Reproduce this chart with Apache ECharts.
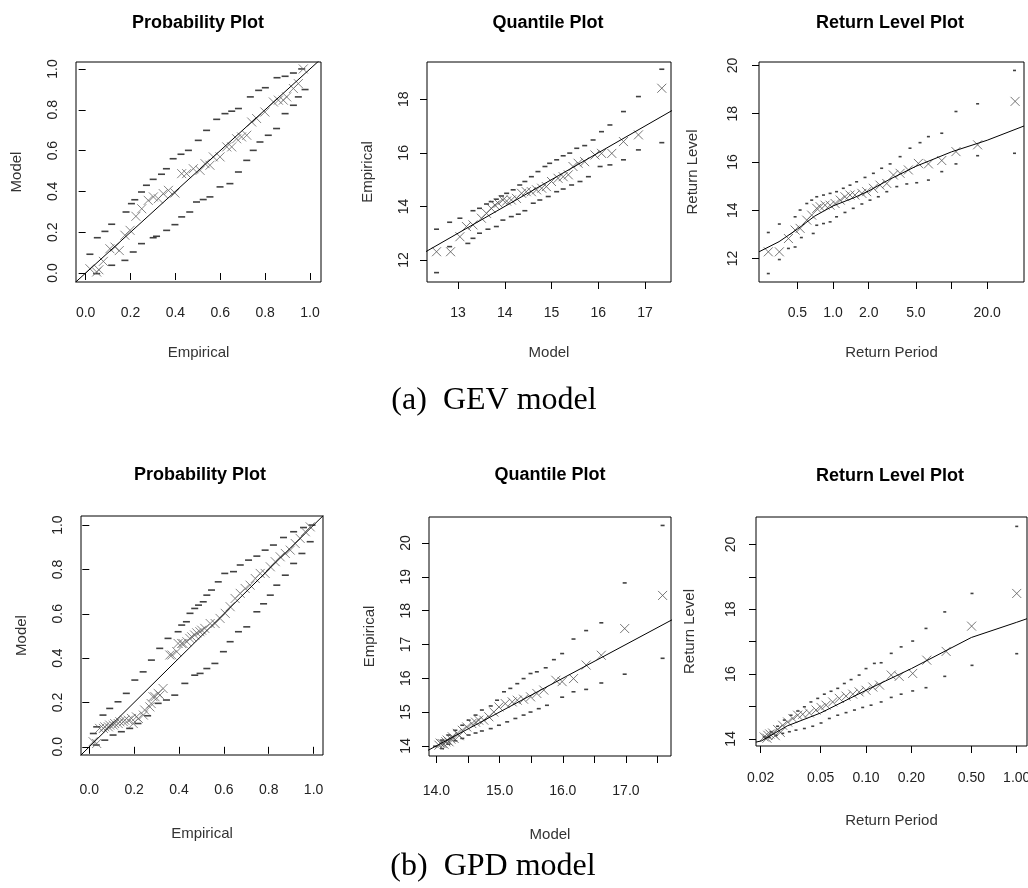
<!DOCTYPE html>
<html>
<head>
<meta charset="utf-8">
<title>GEV / GPD diagnostic plots</title>
<script src="https://cdn.jsdelivr.net/npm/echarts@6/dist/echarts.min.js"></script>
<style>
  html, body { margin: 0; padding: 0; background: #fff; }
  #main { width: 1028px; height: 888px; }
</style>
</head>
<body>
<div id="main"></div>
<script>
// ---- (a) GEV model ----
// probability plot: [empirical, model]
var gevProbPts = [[0.019,0.021],[0.049,0.005],[0.059,0.016],[0.079,0.057],[0.108,0.119],[0.131,0.127],[0.150,0.110],[0.175,0.185],[0.198,0.209],[0.224,0.278],[0.250,0.315],[0.279,0.356],[0.302,0.373],[0.324,0.364],[0.346,0.389],[0.369,0.405],[0.398,0.392],[0.428,0.487],[0.450,0.487],[0.480,0.511],[0.510,0.503],[0.532,0.536],[0.554,0.528],[0.569,0.569],[0.599,0.569],[0.629,0.618],[0.651,0.618],[0.673,0.658],[0.695,0.667],[0.718,0.675],[0.740,0.740],[0.762,0.757],[0.799,0.789],[0.837,0.838],[0.859,0.847],[0.881,0.847],[0.896,0.863],[0.926,0.904],[0.948,0.928],[0.970,1.0]];
var gevProbUpper = [[0.019,0.092],[0.052,0.173],[0.086,0.204],[0.116,0.239],[0.180,0.299],[0.204,0.340],[0.219,0.359],[0.249,0.397],[0.271,0.430],[0.301,0.459],[0.338,0.484],[0.360,0.511],[0.390,0.560],[0.425,0.582],[0.458,0.601],[0.502,0.650],[0.539,0.699],[0.584,0.753],[0.621,0.781],[0.651,0.793],[0.681,0.806],[0.734,0.863],[0.771,0.895],[0.801,0.908],[0.853,0.957],[0.889,0.964],[0.926,0.980],[0.963,1.0]];
var gevProbLower = [[0.049,-0.003],[0.116,0.038],[0.175,0.062],[0.212,0.103],[0.249,0.144],[0.301,0.173],[0.316,0.180],[0.361,0.209],[0.398,0.237],[0.428,0.275],[0.464,0.299],[0.494,0.348],[0.524,0.360],[0.554,0.373],[0.599,0.422],[0.643,0.438],[0.681,0.495],[0.718,0.552],[0.747,0.601],[0.777,0.642],[0.814,0.675],[0.851,0.708],[0.889,0.781],[0.926,0.822],[0.948,0.863],[0.978,0.899]];
var probDiag = [[-0.1,-0.1],[1.1,1.1]];

// quantile plot: [model, empirical]
var gevQuantPts = [[12.54,12.31],[12.84,12.31],[13.04,12.87],[13.18,13.25],[13.32,13.31],[13.50,13.56],[13.61,13.74],[13.71,13.93],[13.79,14.05],[13.86,14.12],[13.96,14.24],[14.04,14.20],[14.14,14.24],[14.25,14.30],[14.36,14.49],[14.46,14.55],[14.57,14.55],[14.68,14.62],[14.79,14.68],[14.89,14.74],[15.00,14.93],[15.14,15.05],[15.25,15.11],[15.36,15.18],[15.46,15.49],[15.57,15.61],[15.71,15.67],[15.93,15.92],[16.07,15.98],[16.29,15.98],[16.54,16.42],[16.86,16.67],[17.36,18.41]];
var gevQuantUpper = [[12.54,13.15],[12.82,13.41],[13.04,13.56],[13.32,13.84],[13.46,13.93],[13.61,14.09],[13.71,14.18],[13.82,14.27],[13.93,14.39],[14.04,14.49],[14.18,14.62],[14.32,14.80],[14.43,14.93],[14.57,15.11],[14.71,15.30],[14.86,15.49],[14.96,15.61],[15.11,15.74],[15.25,15.89],[15.39,15.99],[15.54,16.17],[15.71,16.27],[15.89,16.48],[16.07,16.79],[16.25,17.04],[16.54,17.54],[16.86,18.10],[17.36,19.12]];
var gevQuantLower = [[12.54,11.53],[12.82,12.50],[13.21,12.62],[13.32,12.81],[13.46,13.00],[13.64,13.15],[13.82,13.25],[13.96,13.49],[14.14,13.62],[14.29,13.71],[14.43,13.84],[14.61,14.12],[14.75,14.24],[14.93,14.37],[15.11,14.55],[15.25,14.65],[15.43,14.80],[15.61,14.93],[15.79,15.11],[16.04,15.49],[16.25,15.55],[16.54,15.74],[16.86,16.11],[17.36,16.38]];
var gevQuantDiag = [[11,11],[20,20]];

// return level plot: [return period, return level]
var gevRetCurve = [[0.237,12.28],[0.35,12.70],[0.5,13.22],[0.7,13.76],[1.0,14.18],[1.5,14.52],[2.0,14.80],[3.0,15.28],[5.0,15.82],[10,16.42],[20,16.90],[40.9,17.49]];
var gevRetPts = [[0.284,12.28],[0.352,12.28],[0.42,12.83],[0.478,13.18],[0.527,13.25],[0.600,13.59],[0.66,13.80],[0.728,14.08],[0.777,14.15],[0.856,14.21],[0.944,14.21],[1.04,14.28],[1.15,14.42],[1.26,14.56],[1.39,14.63],[1.53,14.63],[1.75,14.70],[1.92,14.77],[2.19,14.91],[2.49,15.04],[2.84,15.11],[3.23,15.46],[3.68,15.53],[4.32,15.67],[5.25,15.94],[6.38,15.92],[8.27,16.06],[10.9,16.43],[16.6,16.71],[34.4,18.51]];
var gevRetUpper = [[0.284,13.08],[0.352,13.43],[0.478,13.73],[0.527,14.01],[0.60,14.28],[0.66,14.42],[0.728,14.56],[0.83,14.63],[0.944,14.70],[1.07,14.77],[1.22,14.91],[1.39,15.04],[1.58,15.18],[1.86,15.36],[2.19,15.53],[2.57,15.74],[3.03,15.92],[3.68,16.22],[4.46,16.57],[5.42,16.80],[6.38,17.05],[8.27,17.19],[10.9,18.09],[16.6,18.41],[34.0,19.79]];
var gevRetLower = [[0.284,11.38],[0.352,11.96],[0.42,12.42],[0.478,12.48],[0.54,12.87],[0.68,13.04],[0.728,13.38],[0.83,13.45],[0.944,13.52],[1.07,13.73],[1.26,13.91],[1.48,14.08],[1.75,14.26],[2.05,14.42],[2.41,14.56],[2.84,14.77],[3.45,14.98],[4.19,15.09],[5.08,15.14],[6.38,15.25],[8.27,15.60],[10.9,15.92],[16.6,16.26],[34.0,16.36]];

// ---- (b) GPD model ----
var gpdProbPts = [[0.017,0.023],[0.033,0.015],[0.046,0.083],[0.063,0.083],[0.069,0.090],[0.085,0.090],[0.091,0.098],[0.107,0.098],[0.113,0.105],[0.129,0.105],[0.136,0.113],[0.152,0.113],[0.158,0.120],[0.174,0.120],[0.188,0.128],[0.196,0.105],[0.210,0.135],[0.219,0.128],[0.241,0.143],[0.247,0.166],[0.270,0.180],[0.276,0.195],[0.284,0.226],[0.293,0.226],[0.307,0.241],[0.315,0.233],[0.329,0.263],[0.359,0.414],[0.368,0.414],[0.390,0.429],[0.396,0.466],[0.412,0.466],[0.418,0.466],[0.435,0.474],[0.448,0.489],[0.457,0.496],[0.470,0.504],[0.479,0.514],[0.493,0.519],[0.501,0.526],[0.515,0.534],[0.539,0.556],[0.561,0.556],[0.583,0.579],[0.606,0.602],[0.628,0.632],[0.650,0.669],[0.673,0.692],[0.695,0.714],[0.717,0.729],[0.740,0.759],[0.762,0.782],[0.784,0.782],[0.807,0.812],[0.829,0.835],[0.851,0.857],[0.874,0.872],[0.896,0.887],[0.918,0.917],[0.940,0.940],[0.963,0.970],[0.985,0.992]];
var gpdProbUpper = [[0.018,0.060],[0.033,0.090],[0.061,0.143],[0.091,0.173],[0.128,0.203],[0.165,0.241],[0.203,0.301],[0.240,0.338],[0.277,0.391],[0.314,0.444],[0.351,0.489],[0.396,0.519],[0.412,0.549],[0.433,0.564],[0.449,0.602],[0.470,0.624],[0.487,0.639],[0.508,0.654],[0.524,0.684],[0.545,0.707],[0.575,0.744],[0.604,0.782],[0.643,0.790],[0.673,0.820],[0.710,0.842],[0.747,0.860],[0.784,0.887],[0.821,0.910],[0.866,0.944],[0.911,0.970],[0.955,0.989],[0.993,1.0]];
var gpdProbLower = [[0.031,0.008],[0.069,0.030],[0.106,0.053],[0.143,0.068],[0.180,0.083],[0.217,0.105],[0.260,0.140],[0.307,0.196],[0.344,0.211],[0.381,0.233],[0.426,0.286],[0.470,0.323],[0.494,0.331],[0.524,0.353],[0.560,0.376],[0.598,0.429],[0.628,0.474],[0.665,0.519],[0.702,0.541],[0.747,0.609],[0.777,0.645],[0.807,0.684],[0.836,0.729],[0.874,0.774],[0.911,0.827],[0.948,0.872],[0.985,0.925]];

var gpdQuantPts = [[14.04,14.02],[14.06,14.08],[14.09,14.07],[14.12,14.05],[14.15,14.12],[14.17,14.17],[14.20,14.12],[14.23,14.20],[14.25,14.27],[14.28,14.22],[14.33,14.37],[14.36,14.30],[14.41,14.46],[14.48,14.56],[14.56,14.66],[14.62,14.70],[14.67,14.76],[14.75,14.76],[14.83,14.86],[14.91,15.00],[14.99,15.15],[15.09,15.25],[15.20,15.30],[15.28,15.35],[15.38,15.38],[15.49,15.45],[15.59,15.55],[15.70,15.65],[15.89,15.94],[15.99,15.90],[16.17,15.99],[16.37,16.39],[16.61,16.68],[16.98,17.47],[17.58,18.45]];
var gpdQuantUpper = [[13.98,13.99],[14.09,14.17],[14.19,14.32],[14.30,14.46],[14.41,14.61],[14.51,14.76],[14.62,14.91],[14.72,15.06],[14.86,15.18],[14.96,15.35],[15.07,15.60],[15.17,15.70],[15.28,15.84],[15.38,15.99],[15.49,16.14],[15.59,16.19],[15.73,16.31],[15.86,16.55],[15.99,16.73],[16.17,17.16],[16.37,17.41],[16.61,17.64],[16.98,18.82],[17.58,20.52]];
var gpdQuantLower = [[14.09,13.92],[14.19,14.05],[14.30,14.15],[14.41,14.22],[14.51,14.32],[14.62,14.38],[14.72,14.44],[14.86,14.51],[14.99,14.61],[15.12,14.71],[15.25,14.81],[15.38,14.91],[15.49,15.00],[15.62,15.10],[15.75,15.20],[15.99,15.44],[16.17,15.60],[16.37,15.67],[16.61,15.86],[16.98,16.12],[17.58,16.59]];
var gpdQuantDiag = [[13,13],[18,18]];

var gpdRetCurve = [[0.0186,13.90],[0.0203,13.94],[0.03,14.40],[0.05,14.80],[0.1,15.50],[0.2,16.17],[0.5,17.13],[1.0,17.60],[1.17,17.71]];
var gpdRetPts = [[0.0211,14.06],[0.022,14.02],[0.0223,14.11],[0.023,14.15],[0.024,14.18],[0.025,14.10],[0.0259,14.29],[0.027,14.20],[0.028,14.42],[0.0302,14.52],[0.0327,14.63],[0.0352,14.73],[0.038,14.76],[0.0421,14.80],[0.0466,14.89],[0.0503,14.97],[0.0543,15.04],[0.0601,15.14],[0.0665,15.25],[0.0737,15.32],[0.0817,15.38],[0.090,15.45],[0.1,15.50],[0.111,15.60],[0.123,15.66],[0.147,15.97],[0.166,15.93],[0.204,16.02],[0.253,16.43],[0.34,16.70],[0.502,17.48],[1.0,18.49]];
var gpdRetUpper = [[0.0211,14.06],[0.0234,14.22],[0.0259,14.39],[0.0287,14.58],[0.0318,14.73],[0.0352,14.86],[0.039,14.99],[0.0431,15.14],[0.0478,15.25],[0.0529,15.38],[0.0586,15.47],[0.0649,15.56],[0.0718,15.71],[0.0796,15.83],[0.090,15.97],[0.1,16.17],[0.1136,16.33],[0.126,16.35],[0.147,16.64],[0.171,16.84],[0.204,17.02],[0.25,17.41],[0.333,17.92],[0.505,18.49],[1.0,20.56]];
var gpdRetLower = [[0.0228,14.04],[0.0253,14.11],[0.028,14.17],[0.031,14.22],[0.0343,14.27],[0.039,14.32],[0.0443,14.39],[0.0503,14.49],[0.0571,14.63],[0.0649,14.73],[0.0737,14.81],[0.0838,14.89],[0.095,14.97],[0.108,15.04],[0.126,15.14],[0.147,15.28],[0.171,15.38],[0.204,15.48],[0.25,15.58],[0.333,15.93],[0.505,16.27],[1.0,16.63]];

// tick values
var probTicks = [0, 0.2, 0.4, 0.6, 0.8, 1.0];
var gevQuantXTicks = [13, 14, 15, 16, 17];
var gevQuantYTicks = [12, 14, 16, 18];
var gevRetXTicks = [0.5, 1, 2, 5, 10, 20];
var gevRetXLabels = [0.5, 1, 2, 5, 20];
var gevRetYTicks = [12, 14, 16, 18, 20];
var gpdQuantXTicks = [14, 14.5, 15, 15.5, 16, 16.5, 17, 17.5];
var gpdQuantXLabels = [14, 15, 16, 17];
var gpdYTicks = [14, 15, 16, 17, 18, 19, 20];
var gpdRetYLabels = [14, 16, 18, 20];
var gpdRetXTicks = [0.02, 0.05, 0.1, 0.2, 0.5, 1];

var FONT = "'Liberation Sans Narrow', 'Liberation Sans', Arial, sans-serif";
var CROSS = 'path://M0,0L10,10M10,0L0,10';

var myChart = echarts.init(document.getElementById('main'));

function grid(l, t, w, h) {
  return { left: l, top: t, width: w, height: h, show: true, borderColor: '#000', borderWidth: 1,
    backgroundColor: 'transparent', containLabel: false, outerBoundsMode: 'none' };
}

// gaps = [label margin, name gap]
function axis(i, type, min, max, ticks, labels, digits, name, isY, gaps) {
  return {
    type: type, gridIndex: i, min: min, max: max, logBase: 10,
    name: name, nameLocation: 'middle', nameGap: gaps[1],
    nameTextStyle: { fontFamily: FONT, fontSize: 15, color: '#333' },
    axisLine: { show: false },
    axisTick: { show: true, length: 7, lineStyle: { color: '#000', width: 1 }, customValues: ticks },
    axisLabel: {
      margin: gaps[0], rotate: isY ? 90 : 0,
      fontFamily: FONT, fontSize: 14, color: '#222',
      customValues: labels,
      formatter: function (v) { return (+v).toFixed(digits); }
    },
    splitLine: { show: false }
  };
}

function crosses(i, data, color, size) {
  return { type: 'scatter', xAxisIndex: i, yAxisIndex: i, data: data, symbol: CROSS,
    symbolSize: size, silent: true, z: 3,
    itemStyle: { color: 'rgba(0,0,0,0)', borderColor: color, borderWidth: 1 } };
}

function dashes(i, data, w) {
  return { type: 'scatter', xAxisIndex: i, yAxisIndex: i, data: data, symbol: 'rect',
    symbolSize: [w, 1.6], silent: true, z: 2, itemStyle: { color: '#111' } };
}

function curve(i, data) {
  return { type: 'line', xAxisIndex: i, yAxisIndex: i, data: data, symbol: 'none', clip: true,
    silent: true, z: 4, lineStyle: { color: '#000', width: 1 } };
}

function title(text, x, y, font) {
  return { text: text, left: x, top: y, textAlign: 'center', textVerticalAlign: 'middle', padding: 0,
    textStyle: font };
}

var plotTitle = { fontFamily: FONT, fontSize: 18, fontWeight: 'bold', color: '#000' };
var caption = { fontFamily: "'Liberation Serif', 'Times New Roman', serif", fontSize: 32, fontWeight: 'normal', color: '#000' };

var option = {
  animation: false,
  backgroundColor: '#fff',
  title: [
    title('Probability Plot', 198, 23.5, plotTitle),
    title('Quantile Plot', 548, 23.5, plotTitle),
    title('Return Level Plot', 890, 23.5, plotTitle),
    title('Probability Plot', 200, 475, plotTitle),
    title('Quantile Plot', 550, 475, plotTitle),
    title('Return Level Plot', 890, 476, plotTitle),
    title('(a)  GEV model', 494, 401, caption),
    title('(b)  GPD model', 493, 867, caption)
  ],
  grid: [
    grid(76, 62, 245, 220),
    grid(427, 62, 244, 220),
    grid(759, 62, 265, 220),
    grid(81, 516, 242, 239),
    grid(429, 517, 242, 239),
    grid(756, 517, 271, 229)
  ],
  xAxis: [
    axis(0, 'value', -0.043, 1.049, probTicks, probTicks, 1, 'Empirical', false, [24, 63]),
    axis(1, 'value', 12.336, 17.557, gevQuantXTicks, gevQuantXTicks, 0, 'Model', false, [24, 63]),
    axis(2, 'log', 0.237, 40.9, gevRetXTicks, gevRetXLabels, 1, 'Return Period', false, [24, 63]),
    axis(3, 'value', -0.037, 1.042, probTicks, probTicks, 1, 'Empirical', false, [28, 71]),
    axis(4, 'value', 13.883, 17.713, gpdQuantXTicks, gpdQuantXLabels, 1, 'Model', false, [28, 71]),
    axis(5, 'log', 0.01862, 1.17, gpdRetXTicks, gpdRetXTicks, 2, 'Return Period', false, [25, 67])
  ],
  yAxis: [
    axis(0, 'value', -0.044, 1.034, probTicks, probTicks, 1, 'Model', true, [16, 52]),
    axis(1, 'value', 11.18, 19.39, gevQuantYTicks, gevQuantYTicks, 0, 'Empirical', true, [16, 52]),
    axis(2, 'value', 11.03, 20.14, gevRetYTicks, gevRetYTicks, 0, 'Return Level', true, [19, 59]),
    axis(3, 'value', -0.037, 1.041, probTicks, probTicks, 1, 'Model', true, [16, 52]),
    axis(4, 'value', 13.70, 20.77, gpdYTicks, gpdYTicks, 0, 'Empirical', true, [16, 52]),
    axis(5, 'value', 13.78, 20.85, gpdYTicks, gpdRetYLabels, 0, 'Return Level', true, [18, 59])
  ],
  series: [
    curve(0, probDiag),
    dashes(0, gevProbUpper, 7), dashes(0, gevProbLower, 7),
    crosses(0, gevProbPts, '#666', 9),

    curve(1, gevQuantDiag),
    dashes(1, gevQuantUpper, 5), dashes(1, gevQuantLower, 5),
    crosses(1, gevQuantPts, '#555', 9),

    curve(2, gevRetCurve),
    dashes(2, gevRetUpper, 3), dashes(2, gevRetLower, 3),
    crosses(2, gevRetPts, '#555', 9),

    curve(3, probDiag),
    dashes(3, gpdProbUpper, 7), dashes(3, gpdProbLower, 7),
    crosses(3, gpdProbPts, '#666', 9),

    curve(4, gpdQuantDiag),
    dashes(4, gpdQuantUpper, 4), dashes(4, gpdQuantLower, 4),
    crosses(4, gpdQuantPts, '#555', 9),

    curve(5, gpdRetCurve),
    dashes(5, gpdRetUpper, 3), dashes(5, gpdRetLower, 3),
    crosses(5, gpdRetPts, '#555', 9)
  ]
};

myChart.setOption(option);
</script>
</body>
</html>
